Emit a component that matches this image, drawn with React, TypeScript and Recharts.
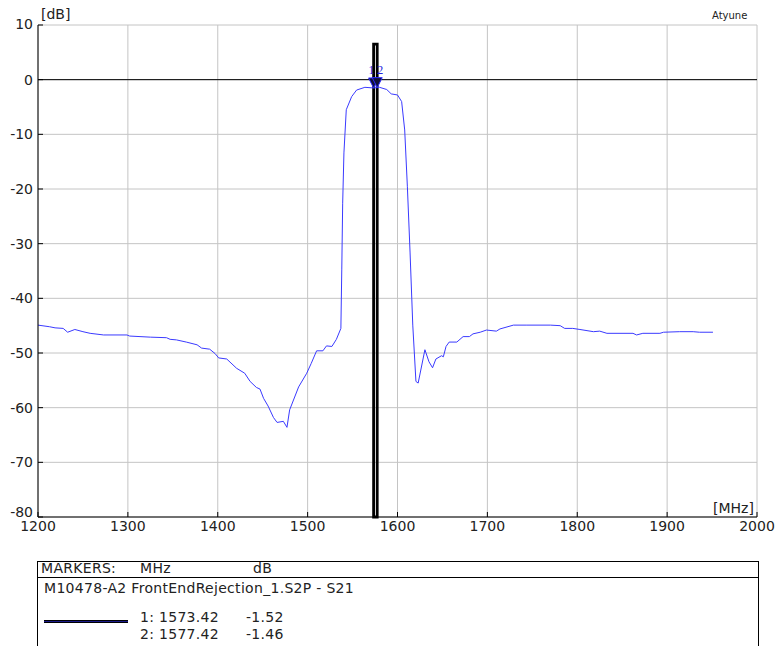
import React from 'react'
import {
  LineChart,
  Line,
  XAxis,
  YAxis,
  CartesianGrid,
  ReferenceLine,
  ReferenceArea,
  ReferenceDot
} from 'recharts'

// S21 trace
const freqMHz = [
  1200, 1213, 1219, 1228, 1233, 1241, 1250, 1258, 1273, 1299, 1302, 1325, 1343, 1347, 1354,
  1365, 1377, 1382, 1391, 1397, 1401, 1410, 1421, 1430, 1436, 1443, 1447, 1451, 1456, 1462,
  1466, 1473, 1477, 1480, 1490, 1499, 1504, 1510, 1517, 1521, 1527, 1532, 1537, 1538, 1539,
  1540.4, 1543, 1549, 1554.5, 1563.7, 1573.42, 1577.42, 1580, 1588, 1593, 1600, 1604.6, 1608,
  1611, 1614, 1617, 1620.5, 1623, 1630.5, 1635, 1639, 1642.7, 1649, 1651, 1654, 1657.5, 1666,
  1673, 1680, 1684, 1692, 1699, 1710, 1714, 1729, 1744, 1770, 1781, 1786, 1795, 1803, 1818,
  1825, 1833, 1862, 1866, 1873, 1892, 1896, 1914, 1929, 1936, 1951
]
const s21dB = [
  -44.9, -45.2, -45.4, -45.5, -46.2, -45.7, -46.1, -46.4, -46.7, -46.7, -46.9, -47.1, -47.2, -47.5, -47.6,
  -48.0, -48.5, -49.1, -49.3, -50.1, -50.9, -51.1, -52.8, -53.7, -55.2, -56.3, -56.6, -58.3, -59.7, -61.8,
  -62.7, -62.5, -63.6, -60.4, -56.2, -53.7, -51.9, -49.6, -49.6, -48.7, -48.8, -47.5, -45.5, -34.8, -22.6,
  -13.4, -5.5, -3.1, -1.9, -1.4, -1.52, -1.46, -1.4, -1.8, -2.6, -2.8, -4.0, -9.2,
  -19.6, -31.7, -44.9, -55.2, -55.5, -49.4, -51.6, -52.7, -51.1, -50.5, -50.7, -48.8, -48.0, -48.0,
  -47.0, -47.0, -46.5, -46.2, -45.8, -46.0, -45.6, -44.9, -44.9, -44.9, -45.0, -45.5, -45.5, -45.7, -46.1,
  -46.0, -46.4, -46.4, -46.7, -46.4, -46.4, -46.2, -46.1, -46.1, -46.2, -46.2
]

const xTicks = [1200, 1300, 1400, 1500, 1600, 1700, 1800, 1900, 2000]
const yTicks = [-80, -70, -60, -50, -40, -30, -20, -10, 0, 10]

const markerIds = ['1', '2']
const markerFreq = [1573.42, 1577.42]
const markerDb = [-1.52, -1.46]
const markerBarTop = 6.5

const traceName = 'M10478-A2 FrontEndRejection_1.S2P - S21'

const data = freqMHz.map((f, i) => ({ f, db: s21dB[i] }))

const font = '"DejaVu Sans", Verdana, sans-serif'
const noLabel = () => <g />

// y labels: the lowest one sits a little higher so it clears the x labels
const YTick = (props: any) => {
  const { x, y, payload } = props
  const lift = payload.value === -80 ? -5 : payload.value === 10 ? -1 : 0
  return (
    <text x={x} y={y + lift} dy="0.355em" textAnchor="end" fontSize={14} fill="#222" fontFamily={font}>
      {payload.value}
    </text>
  )
}

const MarkerShape = (props: any) => {
  const { cx, cy, id } = props
  const dx = id === '1' ? -2 : 3
  return (
    <g>
      <path
        d={`M${cx - 5},${cy - 10} L${cx + 5},${cy - 10} L${cx},${cy} Z`}
        fill="#10103a"
        stroke="#2a2aff"
        strokeWidth={1}
      />
      <text
        x={cx + dx}
        y={cy - 14}
        textAnchor="middle"
        fontSize={12}
        fontFamily="'Liberation Serif', serif"
        fill="#2222dd"
      >
        {id}
      </text>
    </g>
  )
}

const App = () => {
  return (
    <div style={{ position: 'absolute', left: 0, top: 0, width: 775, height: 646, background: '#fff', fontFamily: font, overflow: 'hidden' }}>
      <div style={{ position: 'absolute', left: 41, top: 6, fontSize: 14, color: '#222' }}>[dB]</div>
      <div style={{ position: 'absolute', left: 712, top: 10, fontSize: 10, color: '#222' }}>Atyune</div>
      <div style={{ position: 'absolute', left: 713, top: 500, fontSize: 14, color: '#222' }}>[MHz]</div>
      <LineChart
        width={775}
        height={545}
        data={data}
        margin={{ top: 25, right: 18, left: 0, bottom: 0 }}
      >
        <CartesianGrid stroke="#c4c4c4" strokeWidth={1} />
        <XAxis
          dataKey="f"
          type="number"
          domain={[1200, 2000]}
          ticks={xTicks}
          height={28}
          tickSize={-5}
          tickMargin={9}
          tickLine={{ stroke: '#000' }}
          axisLine={{ stroke: '#000' }}
          tick={{ fontSize: 14, fill: '#222', fontFamily: font }}
          allowDataOverflow
        />
        <XAxis
          xAxisId="top"
          orientation="top"
          type="number"
          domain={[1200, 2000]}
          ticks={xTicks}
          height={0}
          tickSize={-5}
          tickLine={{ stroke: '#000' }}
          axisLine={{ stroke: '#000' }}
          tick={noLabel}
          allowDataOverflow
        />
        <YAxis
          type="number"
          domain={[-80, 10]}
          ticks={yTicks}
          width={38}
          tickSize={-5}
          tickMargin={10}
          tickLine={{ stroke: '#000' }}
          axisLine={{ stroke: '#000' }}
          tick={<YTick />}
          allowDataOverflow
        />
        <YAxis
          yAxisId="right"
          orientation="right"
          type="number"
          domain={[-80, 10]}
          ticks={yTicks}
          width={0}
          tickSize={-5}
          tickLine={{ stroke: '#000' }}
          axisLine={{ stroke: '#000' }}
          tick={noLabel}
          allowDataOverflow
        />
        <ReferenceLine y={0} stroke="#000" strokeWidth={1} />
        <Line
          type="linear"
          dataKey="db"
          stroke="#3a3aff"
          strokeWidth={1}
          dot={false}
          isAnimationActive={false}
        />
        <ReferenceArea
          x1={markerFreq[0]}
          x2={markerFreq[1]}
          y1={-80}
          y2={markerBarTop}
          fill="none"
          stroke="#000"
          strokeWidth={2.8}
        />
        {markerIds.map((id, i) => (
          <ReferenceDot
            key={id}
            x={markerFreq[i]}
            y={markerDb[i]}
            r={5}
            shape={(p: any) => <MarkerShape {...p} id={id} />}
          />
        ))}
      </LineChart>
      <div style={{ position: 'absolute', left: 37, top: 561, width: 720, height: 120, border: '1px solid #000', fontSize: 14, letterSpacing: 0.3, color: '#222' }}>
        <div style={{ position: 'relative', height: 15, borderBottom: '1px solid #000' }}>
          <span style={{ position: 'absolute', left: 3, top: -2 }}>MARKERS:</span>
          <span style={{ position: 'absolute', left: 102, top: -2 }}>MHz</span>
          <span style={{ position: 'absolute', left: 215, top: -2 }}>dB</span>
        </div>
        <div style={{ position: 'absolute', left: 6, top: 18 }}>{traceName}</div>
        <div style={{ position: 'absolute', left: 6, top: 58, width: 84, height: 3, background: '#000' }}>
          <div style={{ margin: '1px 0', height: 1, background: '#1a1a8a' }} />
        </div>
        {markerIds.map((id, i) => (
          <React.Fragment key={id}>
            <span style={{ position: 'absolute', left: 102, top: 47 + i * 17 }}>{`${id}: ${markerFreq[i].toFixed(2)}`}</span>
            <span style={{ position: 'absolute', left: 208, top: 47 + i * 17 }}>{markerDb[i].toFixed(2)}</span>
          </React.Fragment>
        ))}
      </div>
    </div>
  )
}

export default App
